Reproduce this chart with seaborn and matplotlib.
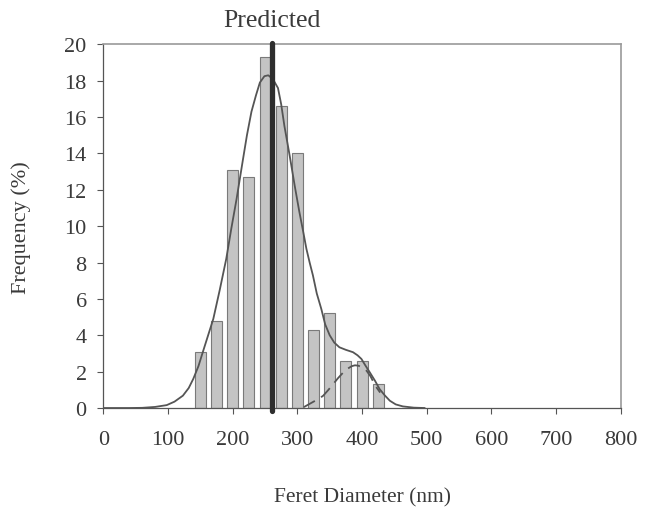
import numpy as np
import pandas as pd
import seaborn as sns
import matplotlib.pyplot as plt

# histogram of feret diameters (bin centres, % frequency)
bin_centres = [150, 175, 200, 225, 250, 275, 300, 325, 350, 375, 400, 425]
frequency = [3.1, 4.8, 13.1, 12.7, 19.3, 16.6, 14.0, 4.3, 5.2, 2.6, 2.6, 1.3]

# overall fitted curve
fit_x = [0, 40, 60, 80, 98, 110, 123, 132, 139, 147, 154, 162, 170, 180, 190, 198,
         206, 216, 222, 229, 236, 242, 249, 255, 262, 270, 275, 280, 288, 296, 303,
         309, 314, 319, 324, 330, 337, 343, 350, 357, 365, 375, 386, 393, 399, 405,
         412, 420, 427, 435, 443, 452, 463, 480, 497]
fit_y = [0, 0, 0.01, 0.06, 0.16, 0.35, 0.68, 1.1, 1.6, 2.3, 3.1, 4.0, 4.9, 6.5, 8.2, 9.9,
         11.5, 13.7, 15.0, 16.3, 17.2, 17.9, 18.25, 18.3, 18.1, 17.6, 16.7, 15.5, 13.9, 12.2, 10.8,
         9.7, 8.75, 8.0, 7.3, 6.3, 5.45, 4.6, 4.0, 3.6, 3.34, 3.2, 3.07, 2.9, 2.7, 2.35,
         1.96, 1.5, 1.05, 0.7, 0.4, 0.2, 0.09, 0.02, 0]

# second population (dashed)
sub_x = [310, 314, 325, 333, 340, 348, 355, 363, 371, 378, 384, 389, 394, 400,
         407, 413, 418, 423, 428]
sub_y = [0.05, 0.13, 0.35, 0.5, 0.68, 1.0, 1.3, 1.65, 1.96, 2.17, 2.3, 2.35, 2.33, 2.25,
         2.05, 1.75, 1.4, 1.1, 0.85]

predicted = 260

sns.set_style("ticks")
plt.rcParams['font.family'] = ['Liberation Serif', 'DejaVu Serif']
ink = "#3a3a3a"

fig = plt.figure(figsize=(6.5, 5.1), dpi=100)
ax = fig.add_axes([0.159, 0.198, 0.796, 0.713])

df = pd.DataFrame({"size": bin_centres, "freq": frequency})
sns.barplot(data=df, x="size", y="freq", native_scale=True, width=0.68,
            color="#c4c4c4", edgecolor="#7a7a7a", linewidth=0.8, saturation=1, ax=ax)

sns.lineplot(x=fit_x, y=fit_y, color="#555555", linewidth=1.3, sort=False, ax=ax)
sns.lineplot(x=sub_x, y=sub_y, color="#555555", linewidth=1.3, sort=False,
             dashes=False, ax=ax)
ax.lines[-1].set_dashes([7, 4])

ax.axvline(predicted, ymin=-0.008, ymax=1.005, color="#2e2e2e", linewidth=3.8,
           clip_on=False, zorder=5)
ax.text(predicted, 20.75, "Predicted", ha="center", va="bottom", fontsize=18.5, color=ink)

ax.set_xlim(0, 800)
ax.set_ylim(0, 20)
ax.set_xticks(range(0, 801, 100))
ax.set_yticks(range(0, 21, 2))
ax.tick_params(labelsize=16, colors="#555555", labelcolor=ink, length=4, width=0.8)
ax.tick_params(axis="x", pad=12)
ax.tick_params(axis="y", pad=8)
ax.set_xlabel("Feret Diameter (nm)", fontsize=15.5, color=ink, labelpad=27)
ax.set_ylabel("Frequency (%)", fontsize=16, color=ink, labelpad=24)

for side in ["left", "bottom"]:
    ax.spines[side].set_color("#555555")
    ax.spines[side].set_linewidth(0.9)
for side in ["top", "right"]:
    ax.spines[side].set_visible(True)
    ax.spines[side].set_color("#9a9a9a")
    ax.spines[side].set_linewidth(1.2)

fig.savefig("out.png", dpi=100, facecolor="white")
